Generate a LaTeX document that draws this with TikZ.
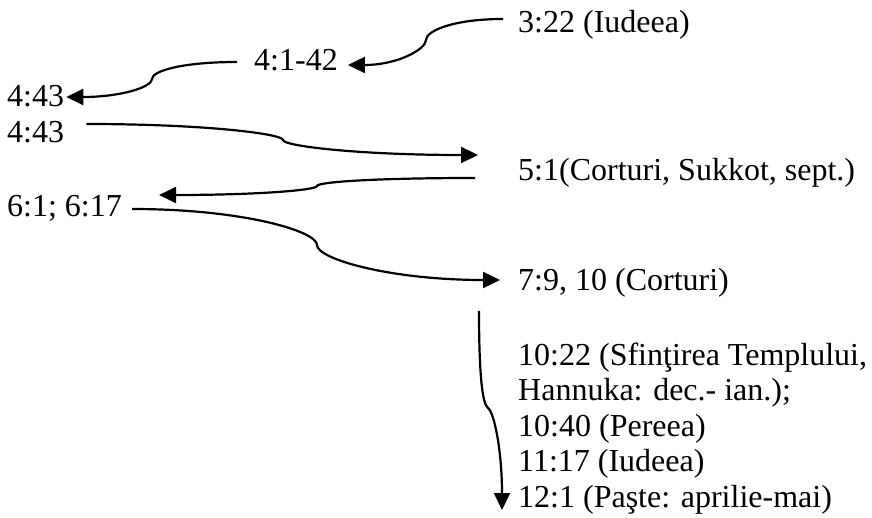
\documentclass[tikz,border=0pt]{standalone}
\usepackage{fontspec}
\setmainfont{Liberation Serif}
\usetikzlibrary{arrows.meta,calc}
\tikzset{
  lbl/.style={inner sep=0pt, anchor=base west, font=\fontsize{32}{35.5}\selectfont},
  conn/.style={line width=2.2pt, -{Triangle[length=17pt,width=16pt]}}
}
\begin{document}
\begin{tikzpicture}[x=1pt,y=-1pt]
\useasboundingbox (0,0) rectangle (872,518);
% labels
\node[lbl] (n322) at (518,33) {3:22 (Iudeea)};
\node[lbl] (n41)  at (254,71) {4:1-42};
\node[lbl] (n443a) at (7,107) {4:43};
\node[lbl] (n443b) at (7,143) {4:43};
\node[lbl] (n51)  at (518,181) {5:1(Corturi, Sukkot, sept.)};
\node[lbl] (n61)  at (7,217) {6:1; 6:17};
\node[lbl] (n79)  at (518,291) {7:9, 10 (Corturi)};
\node[lbl] (n10)  at (518,365) {\begin{tabular}[t]{@{}l@{}}10:22 (Sfinţirea Templului,\\Hannuka: dec.- ian.);\\10:40 (Pereea)\\11:17 (Iudeea)\\12:1 (Paşte: aprilie-mai)\end{tabular}};
% connector end points
\coordinate (s1) at ($(n322.base west)+(-15,-14)$);
\coordinate (k1) at (426,40);
\coordinate (t1) at ($(n41.base east)+(10,-6)$);
\coordinate (s2) at ($(n41.base west)+(-17,-9)$);
\coordinate (k2) at (152,79);
\coordinate (t2) at ($(n443a.base east)+(2,-10)$);
\coordinate (s3) at ($(n443b.base east)+(22,-19)$);
\coordinate (k3) at (283,140);
\coordinate (t3) at ($(n51.base west)+(-40,-26)$);
\coordinate (s4) at ($(n51.base west)+(-43,-3)$);
\coordinate (k4) at (317,186);
\coordinate (t4) at ($(n61.base east)+(37,-22)$);
\coordinate (s5) at ($(n61.base east)+(10,-8)$);
\coordinate (k5) at (317,245);
\coordinate (t5) at ($(n79.base west)+(-18,-11)$);
\coordinate (s6) at ($(n10.base west)+(-39,-54)$);
\coordinate (k6) at (488,408);
\coordinate (t6) at ($(n10.base west)+(-16,145)$);
% connectors
\draw[conn] (s1) .. controls +(-50,0) and +(0,-9) .. (k1) .. controls +(0,9) and +(50,0) .. (t1);
\draw[conn] (s2) .. controls +(-55,0) and +(0,-8) .. (k2) .. controls +(0,8) and +(55,0) .. (t2);
\draw[conn] (s3) .. controls +(120,0) and +(0,-6) .. (k3) .. controls +(0,6) and +(-120,0) .. (t3);
\draw[conn] (s4) .. controls +(-100,0) and +(0,-4) .. (k4) .. controls +(0,4) and +(100,0) .. (t4);
\draw[conn] (s5) .. controls +(110,0) and +(0,-14) .. (k5) .. controls +(0,14) and +(-110,0) .. (t5);
\draw[conn] (s6) .. controls +(0,60) and +(-6,-4) .. (k6) .. controls +(6,4) and +(0,-60) .. (t6);
\end{tikzpicture}
\end{document}
